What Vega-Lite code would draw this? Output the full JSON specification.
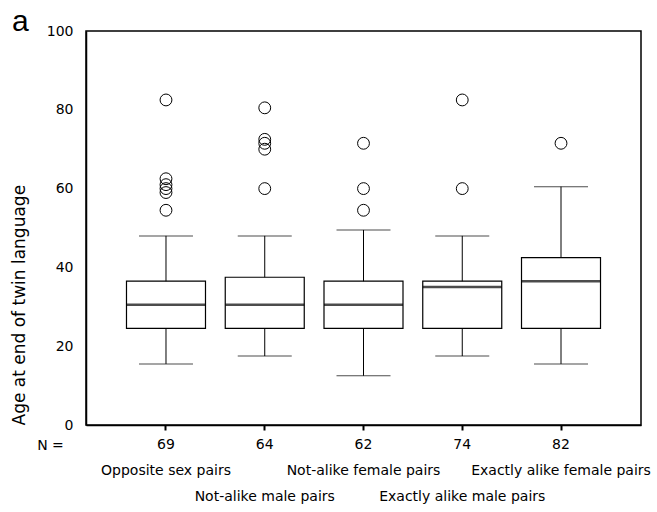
{
  "$schema": "https://vega.github.io/schema/vega-lite/v6.json",
  "width": 555,
  "height": 394,
  "autosize": "none",
  "padding": {"left": 86, "top": 31, "right": 16, "bottom": 87},
  "title": {"text": "a", "anchor": "start", "frame": "group", "dx": -74, "dy": 16, "offset": 3, "fontSize": 30, "font": "Liberation Sans", "fontWeight": "normal", "color": "black"},
  "config": {"view": {"stroke": "black", "strokeWidth": 1.5}, "font": "DejaVu Sans"},
  "datasets": {
    "boxes": [
      {"group": "Opposite sex pairs", "n": 69, "lower": 15.5, "q1": 24.5, "median": 30.5, "q3": 36.5, "upper": 48},
      {"group": "Not-alike male pairs", "n": 64, "lower": 17.5, "q1": 24.5, "median": 30.5, "q3": 37.5, "upper": 48},
      {"group": "Not-alike female pairs", "n": 62, "lower": 12.5, "q1": 24.5, "median": 30.5, "q3": 36.5, "upper": 49.5},
      {"group": "Exactly alike male pairs", "n": 74, "lower": 17.5, "q1": 24.5, "median": 35, "q3": 36.5, "upper": 48},
      {"group": "Exactly alike female pairs", "n": 82, "lower": 15.5, "q1": 24.5, "median": 36.5, "q3": 42.5, "upper": 60.5}
    ],
    "outliers": [
      {"group": "Opposite sex pairs", "age": 82.5},
      {"group": "Opposite sex pairs", "age": 62.5},
      {"group": "Opposite sex pairs", "age": 61},
      {"group": "Opposite sex pairs", "age": 60},
      {"group": "Opposite sex pairs", "age": 59},
      {"group": "Opposite sex pairs", "age": 54.5},
      {"group": "Not-alike male pairs", "age": 80.5},
      {"group": "Not-alike male pairs", "age": 72.5},
      {"group": "Not-alike male pairs", "age": 71.5},
      {"group": "Not-alike male pairs", "age": 70},
      {"group": "Not-alike male pairs", "age": 60},
      {"group": "Not-alike female pairs", "age": 71.5},
      {"group": "Not-alike female pairs", "age": 60},
      {"group": "Not-alike female pairs", "age": 54.5},
      {"group": "Exactly alike male pairs", "age": 82.5},
      {"group": "Exactly alike male pairs", "age": 60},
      {"group": "Exactly alike female pairs", "age": 71.5}
    ]
  },
  "encoding": {
    "x": {
      "field": "group",
      "type": "nominal",
      "sort": ["Opposite sex pairs", "Not-alike male pairs", "Not-alike female pairs", "Exactly alike male pairs", "Exactly alike female pairs"],
      "scale": {"paddingInner": 0, "paddingOuter": 0.31},
      "axis": {
        "title": "N =",
        "titleAngle": 0,
        "titleX": -36,
        "titleY": 20,
        "titleAlign": "center",
        "titleBaseline": "middle",
        "titleFontSize": 14,
        "titleFontWeight": "normal",
        "titleColor": "black",
        "domainColor": "black",
        "domainWidth": 1.5,
        "tickColor": "black",
        "tickSize": 5,
        "tickWidth": 2,
        "labelAngle": 0,
        "labelOverlap": false,
        "labelLimit": 0,
        "labelFontSize": 14,
        "labelColor": "black",
        "labelPadding": 7,
        "labelLineHeight": 26,
        "labelExpr": "datum.value == 'Opposite sex pairs' ? ['69', datum.value] : datum.value == 'Not-alike male pairs' ? ['64', '\u2800', datum.value] : datum.value == 'Not-alike female pairs' ? ['62', datum.value] : datum.value == 'Exactly alike male pairs' ? ['74', '\u2800', datum.value] : ['82', datum.value]"
      }
    }
  },
  "layer": [
    {
      "data": {"name": "boxes"},
      "mark": {"type": "rule", "color": "black", "strokeWidth": 1},
      "encoding": {
        "y": {"field": "lower", "type": "quantitative", "scale": {"domain": [0, 100]},
          "axis": {"title": "Age at end of twin language", "values": [0, 20, 40, 60, 80, 100], "grid": false, "ticks": false, "domainColor": "black", "domainWidth": 1.5, "labelFontSize": 14, "labelColor": "black", "labelPadding": 13, "titleFontSize": 17, "titleFontWeight": "normal", "titleColor": "black", "titleAnchor": "start", "titlePadding": 18}},
        "y2": {"field": "upper"}
      }
    },
    {
      "data": {"name": "boxes"},
      "mark": {"type": "tick", "color": "black", "size": 54, "thickness": 1},
      "encoding": {"y": {"field": "lower", "type": "quantitative"}}
    },
    {
      "data": {"name": "boxes"},
      "mark": {"type": "tick", "color": "black", "size": 54, "thickness": 1},
      "encoding": {"y": {"field": "upper", "type": "quantitative"}}
    },
    {
      "data": {"name": "boxes"},
      "mark": {"type": "bar", "fill": "white", "stroke": "black", "strokeWidth": 1.2, "size": 79},
      "encoding": {"y": {"field": "q1", "type": "quantitative"}, "y2": {"field": "q3"}}
    },
    {
      "data": {"name": "boxes"},
      "mark": {"type": "tick", "color": "black", "size": 79, "thickness": 2.5},
      "encoding": {"y": {"field": "median", "type": "quantitative"}}
    },
    {
      "data": {"name": "outliers"},
      "mark": {"type": "point", "shape": "circle", "filled": false, "stroke": "black", "strokeWidth": 1, "size": 140, "opacity": 1},
      "encoding": {"y": {"field": "age", "type": "quantitative"}}
    }
  ]
}
